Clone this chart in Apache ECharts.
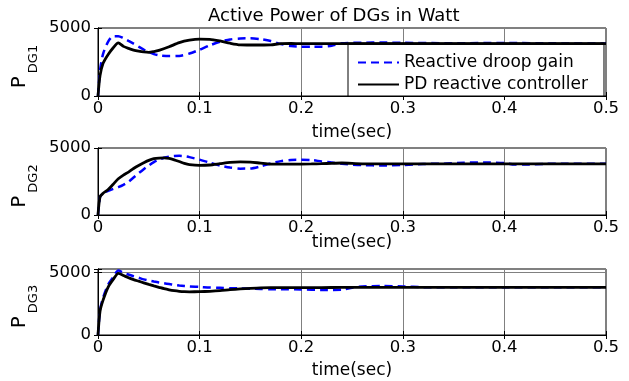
<!DOCTYPE html>
<html>
<head>
<meta charset="utf-8">
<script src="https://cdn.jsdelivr.net/npm/echarts@6/dist/echarts.min.js"></script>
<style>html,body{margin:0;padding:0;background:#fff}#c{width:629px;height:381px}</style>
</head>
<body>
<div id="c"></div>
<script>
// ---------- data ----------
const titleText = 'Active Power of DGs in Watt';
const seriesNames = ['Reactive droop gain', 'PD reactive controller'];
const xTicks = [0, 0.1, 0.2, 0.3, 0.4, 0.5];
const yLabels = ['DG1', 'DG2', 'DG3'];

const t1 = [0,0.002,0.005,0.01,0.015,0.02,0.025,0.03,0.035,0.04,0.045,0.05,0.055,0.06,0.07,0.08,0.09,0.1,0.11,0.12,0.13,0.14,0.15,0.16,0.17,0.18,0.19,0.2,0.21,0.22,0.23,0.24,0.26,0.28,0.3,0.35,0.4,0.45,0.5];
const droop1 = [0,1900,3100,4000,4400,4400,4250,4050,3850,3630,3420,3230,3080,2990,2940,2950,3120,3400,3720,3990,4160,4230,4240,4180,4040,3820,3680,3630,3620,3630,3700,3880,3920,3930,3910,3880,3900,3870,3860];
const pd1    = [0,1500,2400,3050,3550,3900,3650,3500,3380,3300,3240,3210,3270,3360,3620,3920,4100,4180,4170,4050,3880,3760,3750,3750,3760,3850,3860,3850,3850,3850,3850,3850,3850,3850,3850,3850,3850,3850,3850];

const t2 = [0,0.002,0.005,0.01,0.015,0.02,0.025,0.03,0.035,0.04,0.045,0.05,0.055,0.06,0.065,0.07,0.075,0.08,0.085,0.09,0.1,0.11,0.12,0.13,0.14,0.15,0.16,0.17,0.18,0.19,0.2,0.21,0.22,0.23,0.24,0.26,0.28,0.3,0.32,0.34,0.36,0.38,0.4,0.41,0.42,0.44,0.46,0.5];
const droop2 = [0,1350,1600,1800,1950,2080,2250,2480,2800,3120,3420,3700,3950,4130,4270,4360,4410,4420,4390,4320,4130,3900,3690,3540,3460,3470,3630,3850,4020,4110,4120,4100,4000,3920,3820,3720,3700,3730,3810,3830,3900,3920,3880,3760,3760,3820,3830,3830];
const pd2    = [0,1350,1620,1900,2300,2700,2980,3200,3470,3700,3900,4080,4200,4250,4260,4220,4120,3990,3850,3760,3700,3730,3830,3930,3960,3950,3870,3800,3800,3800,3800,3810,3830,3860,3880,3820,3820,3820,3820,3820,3820,3820,3820,3820,3820,3820,3820,3820];

const t3 = [0,0.002,0.005,0.01,0.015,0.02,0.025,0.03,0.035,0.04,0.045,0.05,0.055,0.06,0.065,0.07,0.075,0.08,0.085,0.09,0.1,0.11,0.12,0.13,0.14,0.15,0.16,0.17,0.18,0.2,0.22,0.24,0.25,0.26,0.28,0.3,0.32,0.35,0.4,0.45,0.5];
const droop3 = [0,2000,3000,4050,4650,5170,5000,4860,4720,4600,4470,4380,4290,4210,4150,4090,4030,3980,3940,3900,3860,3810,3790,3760,3740,3720,3690,3670,3670,3660,3620,3630,3800,3900,3930,3900,3840,3830,3830,3830,3830];
const pd3    = [0,1900,2800,3850,4470,4950,4780,4600,4450,4320,4190,4060,3940,3830,3720,3630,3560,3510,3480,3470,3480,3510,3560,3640,3700,3750,3790,3800,3800,3800,3810,3820,3830,3830,3830,3830,3830,3830,3830,3830,3830];

const yMax = [5000, 5000, 5300];
// ---------- layout ----------
const FONT = 'DejaVu Sans';
const grids = [
  {left: 98, right: 23, top: 28, height: 68},
  {left: 98, right: 23, top: 148, height: 67},
  {left: 98, right: 23, top: 269, height: 66}
];
const xNameGap = [28, 19, 27];
const data = [[t1, droop1, pd1], [t2, droop2, pd2], [t3, droop3, pd3]];
const zip = (t, v) => t.map((x, i) => [x, v[i]]);

const xAxis = [], yAxis = [], series = [];
grids.forEach((g, i) => {
  xAxis.push({
    type: 'value', gridIndex: i, min: 0, max: 0.5, interval: 0.1,
    name: 'time(sec)', nameLocation: 'middle', nameGap: xNameGap[i], nameMoveOverlap: false,
    nameTextStyle: {fontFamily: FONT, fontSize: 17, color: '#000'},
    axisLine: {show: true, lineStyle: {color: '#000', width: 1}},
    axisTick: {show: true, inside: true, length: 4, lineStyle: {color: '#000'}},
    axisLabel: {fontFamily: FONT, fontSize: 16.5, color: '#000', margin: 4,
      formatter: v => v === 0 ? '0' : String(Math.round(v * 10) / 10)},
    splitLine: {show: true, lineStyle: {color: '#808080', width: 1}}
  });
  yAxis.push({
    type: 'value', gridIndex: i, min: 0, max: yMax[i], interval: 5000,
    name: '{p|P}{s|' + yLabels[i] + '}', nameLocation: 'middle', nameRotate: 90, nameGap: 68,
    nameMoveOverlap: false,
    nameTextStyle: {fontFamily: FONT, color: '#000', rich: {
      p: {fontFamily: FONT, fontSize: 20, lineHeight: 20, color: '#000', verticalAlign: 'top', padding: [0, 3, 0, 0]},
      s: {fontFamily: FONT, fontSize: 13, lineHeight: 14, color: '#000', verticalAlign: 'top', padding: [17, 9, 0, 0]}
    }},
    axisLine: {show: true, lineStyle: {color: '#000', width: 1}},
    axisTick: {show: true, inside: true, length: 4, lineStyle: {color: '#000'}},
    axisLabel: {fontFamily: FONT, fontSize: 16.5, color: '#000', margin: 7,
      formatter: v => (v === 0 || v === 5000) ? String(v) : ''},
    splitLine: {show: true, lineStyle: {color: '#808080', width: 1}}
  });
  const [t, d, p] = data[i];
  series.push({
    name: seriesNames[0], type: 'line', xAxisIndex: i, yAxisIndex: i,
    data: zip(t, d), symbol: 'none', smooth: 0.25, z: 3,
    lineStyle: {color: '#0000ff', width: 2.5, type: [8, 5]}, itemStyle: {color: '#0000ff'}
  });
  series.push({
    name: seriesNames[1], type: 'line', xAxisIndex: i, yAxisIndex: i,
    data: zip(t, p), symbol: 'none', smooth: 0.25, z: 4,
    lineStyle: {color: '#000', width: 2.8}, itemStyle: {color: '#000'}
  });
});
// mirrored tick axes (top / right)
grids.forEach((g, i) => {
  xAxis.push({type: 'value', gridIndex: i, position: 'top', min: 0, max: 0.5, interval: 0.1,
    axisLine: {show: true, lineStyle: {color: '#000'}}, axisLabel: {show: false},
    axisTick: {show: true, inside: true, length: 4, lineStyle: {color: '#000'}}, splitLine: {show: false}});
  yAxis.push({type: 'value', gridIndex: i, position: 'right', min: 0, max: yMax[i], interval: 5000,
    axisLine: {show: true, lineStyle: {color: '#000'}}, axisLabel: {show: false},
    axisTick: {show: true, inside: true, length: 4, lineStyle: {color: '#000'}}, splitLine: {show: false}});
});

const chart = echarts.init(document.getElementById('c'), null, {renderer: 'canvas'});
chart.setOption({
  animation: false,
  backgroundColor: '#fff',
  title: {text: titleText, left: 208, top: 7, padding: 0,
    textStyle: {fontFamily: FONT, fontSize: 18, fontWeight: 'normal', color: '#000'}},
  legend: {
    data: seriesNames, orient: 'vertical', left: 348, top: 43,
    padding: [11, 16, 3, 9], itemGap: 5, itemWidth: 41, itemHeight: 14,
    itemStyle: {opacity: 0},
    backgroundColor: '#fff', borderColor: '#000', borderWidth: 1,
    textStyle: {fontFamily: FONT, fontSize: 17, color: '#000', lineHeight: 17}
  },
  grid: grids.map(g => Object.assign({show: true, borderColor: '#000', borderWidth: 1, backgroundColor: 'transparent'}, g)),
  xAxis, yAxis, series
});
</script>
</body>
</html>
